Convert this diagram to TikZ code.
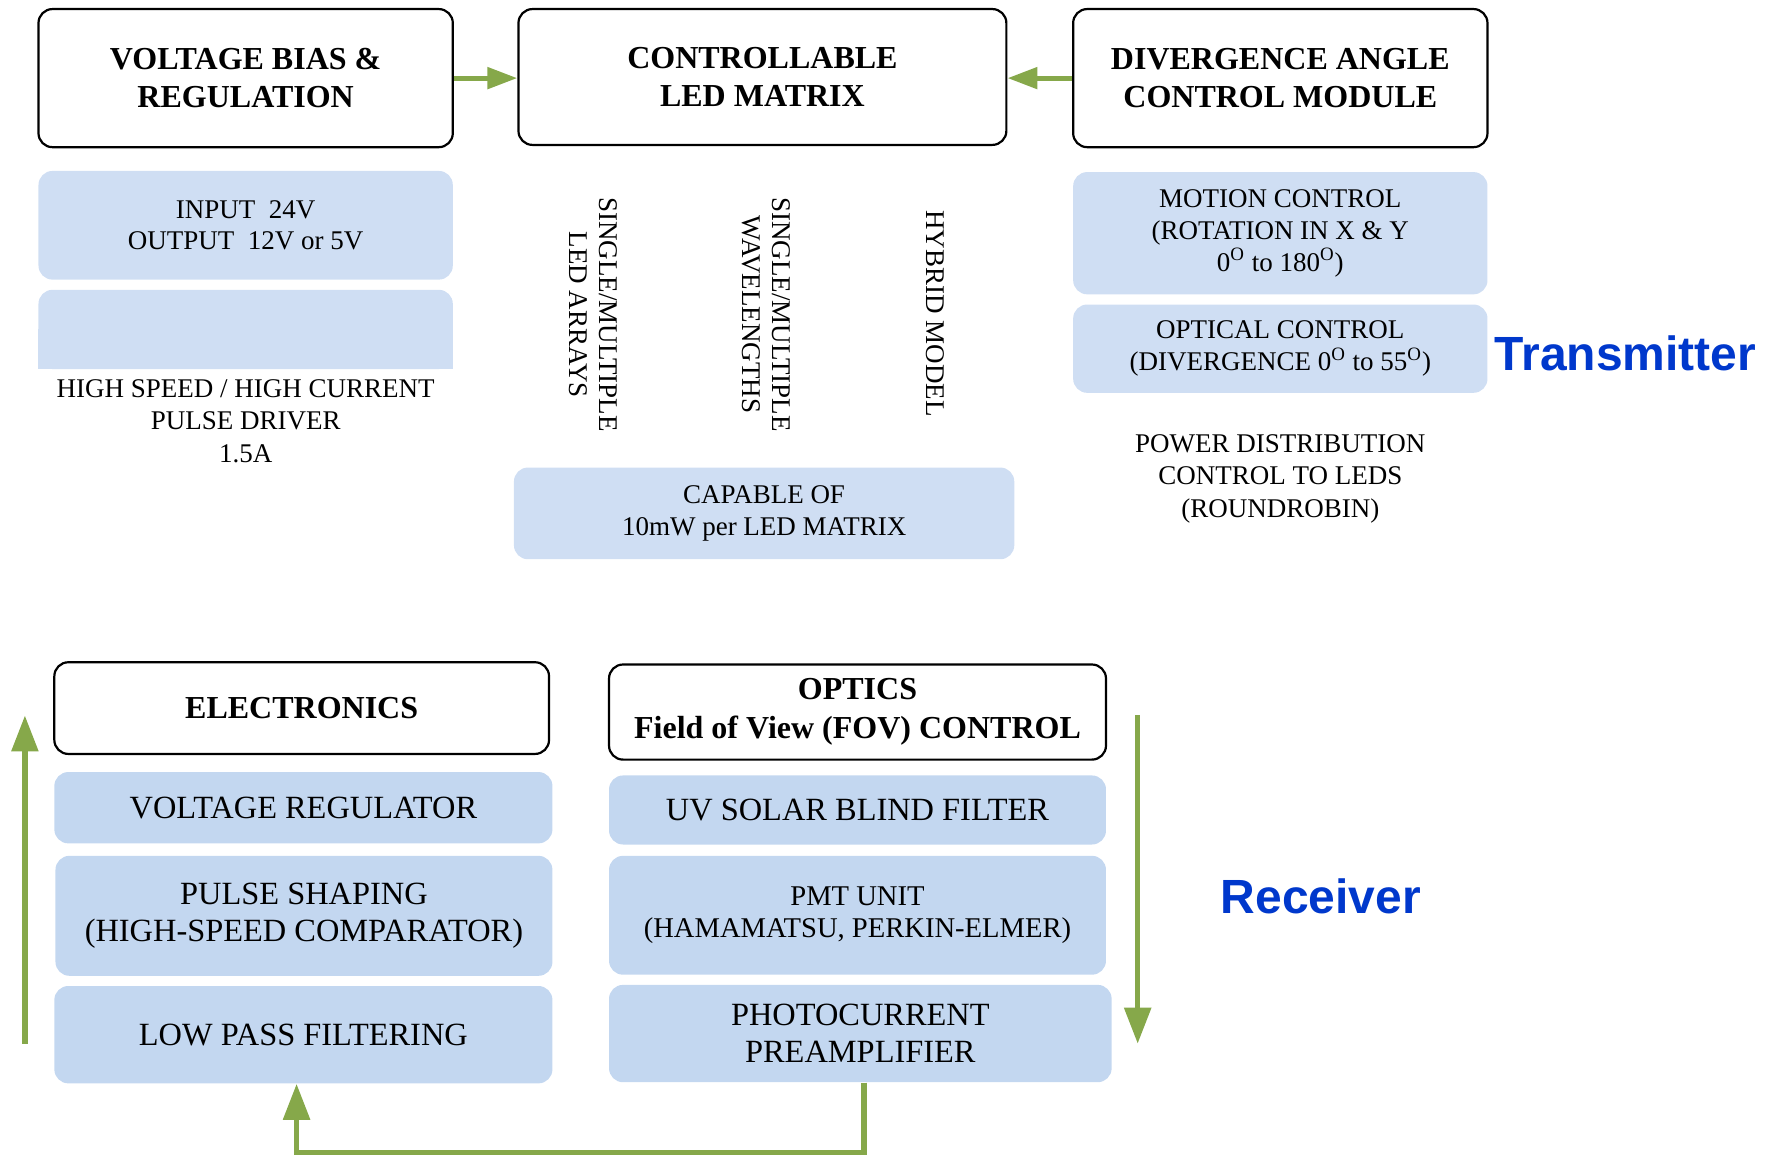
\documentclass[tikz,border=0pt]{standalone}
\usepackage{fontspec}
\setmainfont{Liberation Serif}
\newfontfamily\armfont{Liberation Sans}
\usetikzlibrary{arrows.meta}
\definecolor{gline}{RGB}{134,168,74}
\definecolor{lblue}{RGB}{207,222,243}
\definecolor{mblue}{RGB}{195,215,240}
\definecolor{tblue}{RGB}{0,56,204}
\tikzset{
 bsize/.style 2 args={minimum width=#1*0.566pt, minimum height=#2*0.566pt},
 hdr/.style={draw=black, line width=1.1pt, rounded corners=7pt, fill=white, inner sep=0pt, align=center, font=\fontsize{16}{19.3}\selectfont\bfseries},
 topbox/.style={fill=lblue, rounded corners=7pt, inner sep=0pt, align=center, font=\fontsize{13.5}{15.9}\selectfont},
 botbox/.style={fill=mblue, rounded corners=7pt, inner sep=0pt, align=center, font=\fontsize{16.2}{18.7}\selectfont},
 plaintxt/.style={align=center, inner sep=0pt, font=\fontsize{13.5}{16.4}\selectfont},
 vtxt/.style={align=center, inner sep=0pt, rotate=-90, font=\fontsize{13.5}{15.3}\selectfont},
 lab/.style={inner sep=0pt, text=tblue, font=\armfont\bfseries\fontsize{24}{28}\selectfont},
 garrowT/.style={draw=gline, line width=2.6pt, -{Triangle[length=15pt,width=10.5pt]}},
 garrowB/.style={draw=gline, line width=2.8pt, -{Triangle[length=18pt,width=13pt]}},
}
\begin{document}
\begin{tikzpicture}[x=0.566pt,y=-0.566pt]
\useasboundingbox (0,0) rectangle (1568,1020);
% ---------- Transmitter ----------
\node[hdr, bsize={366}{122}] (vb) at (217,69) {VOLTAGE BIAS \&\\REGULATION};
\node[hdr, bsize={431}{120}] (clm) at (673.5,68) {CONTROLLABLE\\LED MATRIX};
\node[hdr, bsize={366}{122}] (dac) at (1131,69) {DIVERGENCE ANGLE\\CONTROL MODULE};
\node[topbox, bsize={366}{96}] (inp) at (217,199) {INPUT\ \ 24V\\OUTPUT\ \ 12V or 5V};
\node[topbox, bsize={366}{70}] (drv) at (217,291) {};
\fill[lblue] (drv.west) rectangle (drv.south east);
\node[plaintxt] (drvtxt) at (217,372) {HIGH SPEED / HIGH CURRENT\\PULSE DRIVER\\1.5A};
\node[vtxt] (sm1) at (524,278) {SINGLE/MULTIPLE\\LED ARRAYS};
\node[vtxt] (sm2) at (677,278) {SINGLE/MULTIPLE\\WAVELENGTHS};
\node[vtxt] (hyb) at (826,277) {HYBRID MODEL};
\node[topbox, bsize={442}{81}] (cap) at (675,453.5) {CAPABLE OF\\10mW per LED MATRIX};
\node[topbox, bsize={366}{108}] (mot) at (1131,206) {MOTION CONTROL\\(ROTATION IN X \& Y\\0\textsuperscript{O} to 180\textsuperscript{O})};
\node[topbox, bsize={366}{78}] (opt) at (1131,308) {OPTICAL CONTROL\\(DIVERGENCE 0\textsuperscript{O} to 55\textsuperscript{O})};
\node[plaintxt] (pwr) at (1131,423) {POWER DISTRIBUTION\\CONTROL TO LEDS\\(ROUNDROBIN)};
\node[lab, anchor=west] (tx) at (1320,312) {Transmitter};
\draw[garrowT] (vb.east) -- (vb.east -| clm.west);
\draw[garrowT] (dac.west) -- (dac.west -| clm.east);
% ---------- Receiver ----------
\node[hdr, bsize={437}{81}] (ele) at (266.5,625.5) {ELECTRONICS};
\node[hdr, bsize={439}{84}] (optx) at (757.5,629) {OPTICS\\Field of View (FOV) CONTROL};
\node[botbox, bsize={440}{63}] (vr) at (268,713.5) {VOLTAGE REGULATOR};
\node[botbox, bsize={439}{106}] (ps) at (268.5,809) {PULSE SHAPING\\(HIGH-SPEED COMPARATOR)};
\node[botbox, bsize={440}{86}] (lpf) at (268,914) {LOW PASS FILTERING};
\node[botbox, bsize={439}{61}] (uv) at (757.5,715.5) {UV SOLAR BLIND FILTER};
\node[botbox, bsize={439}{105}, font=\fontsize{14.3}{16.4}\selectfont] (pmt) at (757.5,808.5) {PMT UNIT\\(HAMAMATSU, PERKIN-ELMER)};
\node[botbox, bsize={444}{86}] (pre) at (760,913) {PHOTOCURRENT\\PREAMPLIFIER};
\node[lab, anchor=west] (rx) at (1078,792) {Receiver};
\coordinate (la1) at (22,922);
\coordinate (la2) at (22,632);
\coordinate (ra1) at (1005,632);
\coordinate (ra2) at (1005,922);
\draw[garrowB] (la1) -- (la2);
\draw[garrowB] (ra1) -- (ra2);
\draw[garrowB] ([xshift=1.7pt]pre.south) -- ++(0,62) -| ([xshift=-3.4pt]lpf.south);
\end{tikzpicture}
\end{document}
